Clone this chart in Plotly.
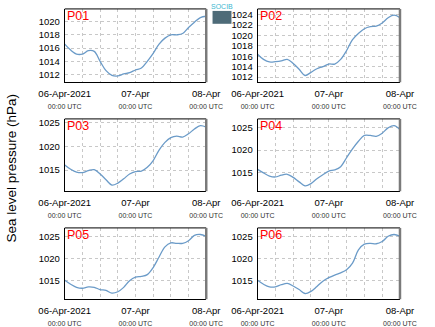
import plotly.graph_objects as go
import pandas as pd

hours = list(range(0, 49, 2))
times = [pd.Timestamp("2021-04-06") + pd.Timedelta(hours=h) for h in hours]

names = ["P01", "P02", "P03", "P04", "P05", "P06"]
p01 = [1016.6, 1015.7, 1015.1, 1015.1, 1015.6, 1015.5, 1014.0, 1012.6, 1011.9, 1011.8, 1012.1, 1012.3, 1012.7,
       1013.0, 1014.0, 1015.2, 1016.6, 1017.5, 1018.0, 1018.0, 1018.2, 1019.1, 1019.9, 1020.6, 1020.8]
p02 = [1016.4, 1015.4, 1014.9, 1014.95, 1015.1, 1015.4, 1014.6, 1013.5, 1012.3, 1012.9, 1013.6, 1014.0, 1014.5,
       1014.5, 1015.4, 1017.1, 1019.2, 1020.4, 1021.3, 1021.7, 1021.8, 1022.4, 1023.4, 1023.9, 1023.4]
p03 = [1016.1, 1015.2, 1014.6, 1014.5, 1014.9, 1015.1, 1014.2, 1013.0, 1011.9, 1012.3, 1013.2, 1014.2, 1014.7,
       1014.8, 1015.6, 1017.0, 1019.2, 1020.8, 1021.8, 1022.1, 1021.9, 1022.6, 1023.6, 1024.3, 1024.0]
p04 = [1015.7, 1014.9, 1014.2, 1014.0, 1014.4, 1014.6, 1013.9, 1012.9, 1012.0, 1012.5, 1013.6, 1014.5, 1015.3,
       1015.6, 1016.3, 1018.3, 1020.3, 1022.0, 1023.3, 1023.3, 1023.1, 1023.8, 1025.0, 1025.5, 1024.6]
p05 = [1015.0, 1014.1, 1013.4, 1013.2, 1013.5, 1013.4, 1012.9, 1012.7, 1012.1, 1012.4, 1013.4, 1014.9, 1015.7,
       1015.9, 1016.3, 1017.9, 1020.3, 1022.6, 1023.5, 1023.4, 1023.4, 1024.0, 1025.2, 1025.4, 1025.0]
p06 = [1015.0, 1014.1, 1013.5, 1013.5, 1014.0, 1014.3, 1013.7, 1012.9, 1012.0, 1012.5, 1013.6, 1014.8, 1015.6,
       1016.2, 1016.7, 1017.4, 1018.9, 1021.9, 1023.2, 1023.4, 1023.3, 1023.8, 1025.0, 1025.4, 1025.0]
series = [p01, p02, p03, p04, p05, p06]

y_ranges = [[1010.85, 1021.9], [1011.0, 1025.1], [1010.6, 1025.7],
            [1010.8, 1027.0], [1010.7, 1026.9], [1010.7, 1026.9]]
y_dticks = [2, 2, 5, 5, 5, 5]

x_tick_hours = list(range(0, 49, 6))
x_tickvals = [pd.Timestamp("2021-04-06") + pd.Timedelta(hours=h) for h in x_tick_hours]
day_labels = {0: "06-Apr-2021", 24: "07-Apr", 48: "08-Apr"}
sub = "<span style='font-size:7px;color:#333333'>00:00 UTC</span>"
x_ticktext = [(day_labels[h] + "<br>" + sub) if h in day_labels else "" for h in x_tick_hours]

W, H = 435, 327
col_px = [(43, 200), (257, 415)]
row_px = [(7, 81), (118, 191), (228, 300)]

fig = go.Figure()
font = "Liberation Sans, Arial, sans-serif"

for i, (nm, ys) in enumerate(zip(names, series)):
    r, c = divmod(i, 2)
    n = i + 1
    xa = "x" if n == 1 else f"x{n}"
    ya = "y" if n == 1 else f"y{n}"
    fig.add_trace(go.Scatter(x=times, y=ys, mode="lines", xaxis=xa, yaxis=ya,
                             line=dict(color="#6b9bc8", width=1.3), showlegend=False,
                             line_shape="spline"))
    x0, x1 = col_px[c]
    t, b = row_px[r]
    xd = [x0 / W, x1 / W]
    yd = [1 - b / H, 1 - t / H]
    xkey = "xaxis" if n == 1 else f"xaxis{n}"
    ykey = "yaxis" if n == 1 else f"yaxis{n}"
    fig.update_layout(**{
        xkey: dict(domain=xd, anchor=ya, type="date",
                   range=[times[0], times[-1]],
                   tickvals=x_tickvals, ticktext=x_ticktext, tickangle=0,
                   showgrid=True, gridcolor="#c8c8c8", griddash="dot", gridwidth=1,
                   showline=True, linecolor="black", linewidth=1,
                   ticks="", ticklabelstandoff=2,
                   tickfont=dict(size=9.5, color="black", family=font),
                   zeroline=False),
        ykey: dict(domain=yd, anchor=xa, range=y_ranges[i], dtick=y_dticks[i], tick0=1010,
                   showgrid=True, gridcolor="#c8c8c8", griddash="dot", gridwidth=1,
                   showline=True, linecolor="black", linewidth=1,
                   ticks="", ticklabelstandoff=2,
                   tickfont=dict(size=9.5, color="black", family=font),
                   zeroline=False),
    })
    fig.add_shape(type="line", xref=f"{xa} domain", yref=f"{ya} domain",
                  x0=0, x1=1, y0=1, y1=1, line=dict(color="black", width=1))
    fig.add_shape(type="line", xref=f"{xa} domain", yref=f"{ya} domain",
                  x0=1, x1=1, y0=0, y1=1, line=dict(color="#7a7a7a", width=2.5))
    fig.add_annotation(text=nm, xref=f"{xa} domain", yref=f"{ya} domain",
                       x=0.0, y=1.0, xanchor="left", yanchor="top", showarrow=False,
                       font=dict(size=12.5, color="red", family=font), xshift=0, yshift=2)

fig.add_annotation(text="Sea level pressure (hPa)", xref="paper", yref="paper",
                   x=10 / W, y=1 - 168 / H, xanchor="center", yanchor="middle",
                   textangle=-90, showarrow=False, xshift=-24,
                   font=dict(size=13.5, color="black", family=font))

# logo placeholder
fig.add_shape(type="rect", xref="paper", yref="paper",
              x0=207 / W, x1=228 / W, y0=1 - 22 / H, y1=1 - 9 / H,
              fillcolor="#4e6b78", line=dict(width=0))
fig.add_annotation(text="SOCIB", xref="paper", yref="paper", x=217.5 / W, y=1 - 5 / H,
                   xanchor="center", yanchor="middle",
                   showarrow=False, font=dict(size=7, color="#3ab7d0", family=font))

fig.update_layout(width=W, height=H, margin=dict(l=0, r=0, t=0, b=0),
                  paper_bgcolor="white", plot_bgcolor="white",
                  font=dict(family=font))

fig.write_html("out.html")
